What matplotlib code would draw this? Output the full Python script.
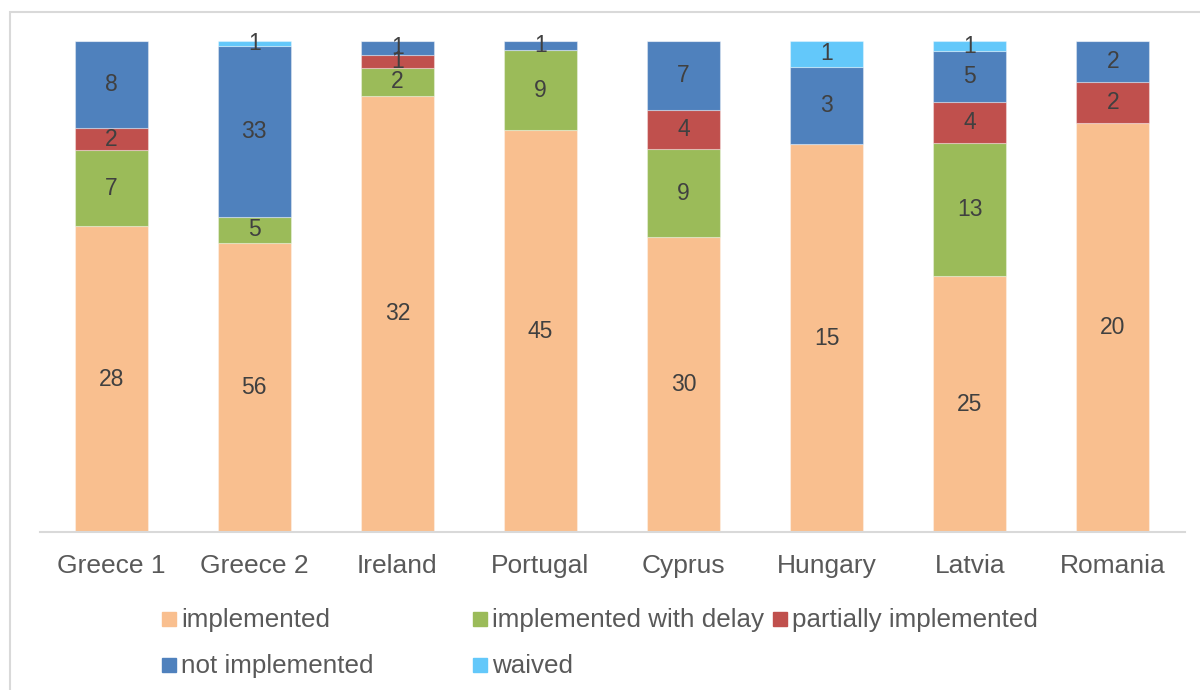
import numpy as np
import matplotlib.pyplot as plt
from matplotlib.patches import Rectangle

plt.rcParams['font.family'] = ['Liberation Sans', 'DejaVu Sans']

countries = ['Greece 1', 'Greece 2', 'Ireland', 'Portugal', 'Cyprus', 'Hungary', 'Latvia', 'Romania']
series = ['implemented', 'implemented with delay', 'partially implemented', 'not implemented', 'waived']
implemented = [28, 56, 32, 45, 30, 15, 25, 20]
with_delay = [7, 5, 2, 9, 9, 0, 13, 0]
partially = [2, 0, 1, 0, 4, 0, 4, 2]
not_implemented = [8, 33, 1, 1, 7, 3, 5, 2]
waived = [0, 1, 0, 0, 0, 1, 1, 0]
colors = ['#F9BF8F', '#9BBB59', '#C0504D', '#4F81BD', '#63C8FA']

vals = np.array([implemented, with_delay, partially, not_implemented, waived], dtype=float)
share = vals / vals.sum(axis=0)

fig = plt.figure(figsize=(12, 6.9), dpi=100)
ax = fig.add_axes([39.5 / 1200, 1 - 532 / 690, 1145 / 1200, 491 / 690])

x = np.arange(len(countries))
bottom = np.zeros(len(countries))
for i, name in enumerate(series):
    ax.bar(x, share[i], 0.51, bottom=bottom, color=colors[i], label=name,
           edgecolor=(1, 1, 1, 0.35), linewidth=0.8)
    for j in range(len(countries)):
        if vals[i, j] > 0:
            ax.text(x[j], bottom[j] + share[i, j] / 2, '%d' % vals[i, j],
                    ha='center', va='center', fontsize=16.5, color='#404040')
    bottom += share[i]

ax.set_xlim(-0.5, len(countries) - 0.5)
ax.set_ylim(0, 1)
ax.set_yticks([])
for s in ['top', 'right', 'left']:
    ax.spines[s].set_visible(False)
ax.spines['bottom'].set_color('#D9D9D9')
ax.spines['bottom'].set_linewidth(1.5)
ax.set_xticks(x)
ax.set_xticklabels(countries, fontsize=19, color='#595959')
ax.tick_params(axis='x', length=0, pad=16)

# legend drawn by hand to match the evenly spaced entries
entries = [(162, 619, 0), (473, 619, 1), (773, 619, 2), (162, 665, 3), (473, 665, 4)]
for px, py, k in entries:
    fig.add_artist(Rectangle((px / 1200, 1 - (py + 7) / 690), 14 / 1200, 14 / 690,
                             transform=fig.transFigure, color=colors[k]))
    fig.text((px + 19) / 1200, 1 - (py + 1) / 690, series[k], fontsize=18.7,
             color='#595959', va='center', ha='left')

# outer chart border
fig.add_artist(Rectangle((10 / 1200, -0.1), 1.2, 1 - 12 / 690 + 0.1, transform=fig.transFigure,
                         fill=False, edgecolor='#D9D9D9', linewidth=1.5))

fig.savefig('out.png', dpi=100)
